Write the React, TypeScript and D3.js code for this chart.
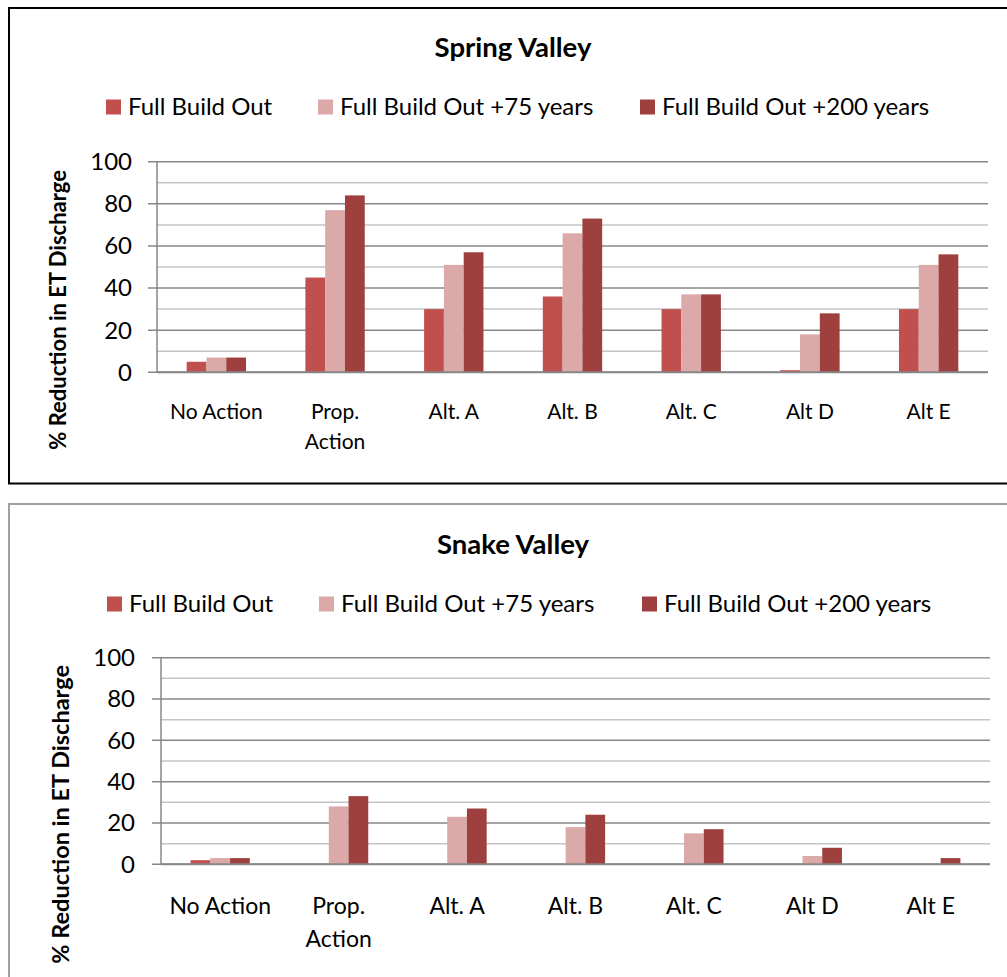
import React from "react";
import * as d3 from "d3";

const categories = ["No Action", "Prop. Action", "Alt. A", "Alt. B", "Alt. C", "Alt D", "Alt E"];
const seriesNames = ["Full Build Out", "Full Build Out +75 years", "Full Build Out +200 years"];
const seriesColors = ["#C0504D", "#DAA9A8", "#9E403E"];
const yTicks = [0, 20, 40, 60, 80, 100];
const yMinor = [10, 30, 50, 70, 90];

const springFull = [5, 45, 30, 36, 30, 1, 30];
const spring75 = [7, 77, 51, 66, 37, 18, 51];
const spring200 = [7, 84, 57, 73, 37, 28, 56];

const snakeFull = [2, 0, 0, 0, 0, 0, 0];
const snake75 = [3, 28, 23, 18, 15, 4, 0];
const snake200 = [3, 33, 27, 24, 17, 8, 3];

const FONT = "Lato, 'Open Sans', sans-serif";

type Geo = {
  frameY: number;
  frameH: number;
  frameStroke: string;
  titleY: number;
  legendY: number;
  legendX: number[];
  left: number;
  right: number;
  y0: number;
  y100: number;
  tickLabelX: number;
  catFont: number;
  catLine1: number;
  catLineGap: number;
  yTitleX: number;
  yTitleTop: number;
  yTitleFont: number;
};

function Chart({ title, series, geo }: { title: string; series: number[][]; geo: Geo }) {
  const x = d3
    .scaleBand<string>()
    .domain(categories)
    .range([geo.left, geo.right])
    .paddingInner(0.5)
    .paddingOuter(0.25);
  const xs = d3
    .scaleBand<string>()
    .domain(seriesNames)
    .range([0, x.bandwidth()])
    .padding(0);
  const y = d3.scaleLinear().domain([0, 100]).range([geo.y0, geo.y100]);

  return (
    <g>
      <rect
        x={9}
        y={geo.frameY}
        width={1010}
        height={geo.frameH}
        fill="#fff"
        stroke={geo.frameStroke}
        strokeWidth={2}
      />
      <text
        x={513}
        y={geo.titleY}
        textAnchor="middle"
        dy="0.35em"
        fontFamily={FONT}
        fontWeight="bold"
        fontSize={27.5}
        fill="#000"
      >
        {title}
      </text>
      {seriesNames.map((s, i) => (
        <g key={s}>
          <rect x={geo.legendX[i]} y={geo.legendY - 7.5} width={15} height={15} fill={seriesColors[i]} />
          <text
            x={geo.legendX[i] + 22}
            y={geo.legendY}
            dy="0.35em"
            fontFamily={FONT}
            fontSize={24}
            fill="#000"
          >
            {s}
          </text>
        </g>
      ))}
      {yMinor.map((t) => (
        <line key={"m" + t} x1={geo.left} x2={geo.right} y1={y(t)} y2={y(t)} stroke="#C4C4C4" strokeWidth={1.5} />
      ))}
      {yTicks.map((t) => (
        <g key={"t" + t}>
          <line x1={geo.left - 9} x2={geo.right} y1={y(t)} y2={y(t)} stroke="#878787" strokeWidth={1.5} />
          <text
            x={geo.tickLabelX}
            y={y(t)}
            dy="0.35em"
            textAnchor="end"
            fontFamily={FONT}
            fontSize={24}
            fill="#000"
          >
            {t}
          </text>
        </g>
      ))}
      <line x1={geo.left} x2={geo.left} y1={y(100)} y2={y(0)} stroke="#878787" strokeWidth={1.5} />
      {categories.map((c, ci) => (
        <g key={c}>
          {seriesNames.map((s, si) => {
            const v = series[si][ci];
            if (v <= 0) return null;
            return (
              <rect
                key={s}
                x={(x(c) as number) + (xs(s) as number)}
                y={y(v)}
                width={xs.bandwidth()}
                height={y(0) - y(v)}
                fill={seriesColors[si]}
              />
            );
          })}
        </g>
      ))}
      <line x1={geo.left} x2={geo.right} y1={y(0)} y2={y(0)} stroke="#878787" strokeWidth={2} />
      {categories.map((c) => {
        const cx = (x(c) as number) + x.bandwidth() / 2;
        const lines = c === "Prop. Action" ? ["Prop.", "Action"] : [c];
        return (
          <text
            key={"l" + c}
            x={cx}
            textAnchor="middle"
            fontFamily={FONT}
            fontSize={geo.catFont}
            fill="#000"
          >
            {lines.map((ln, li) => (
              <tspan key={li} x={cx} y={geo.y0 + geo.catLine1 + li * geo.catLineGap} dy="0.35em">
                {ln}
              </tspan>
            ))}
          </text>
        );
      })}
      <text
        transform={`translate(${geo.yTitleX},${geo.yTitleTop}) rotate(-90)`}
        textAnchor="end"
        dy="0.35em"
        fontFamily={FONT}
        fontWeight="bold"
        fontSize={geo.yTitleFont}
        fill="#000"
      >
        % Reduction in ET Discharge
      </text>
    </g>
  );
}

const topGeo: Geo = {
  frameY: 8,
  frameH: 475.5,
  frameStroke: "#000",
  titleY: 47,
  legendY: 107,
  legendX: [106, 318, 640],
  left: 157,
  right: 988,
  y0: 372.3,
  y100: 161.7,
  tickLabelX: 132,
  catFont: 21,
  catLine1: 39,
  catLineGap: 30,
  yTitleX: 58,
  yTitleTop: 170,
  yTitleFont: 22,
};

const bottomGeo: Geo = {
  frameY: 504,
  frameH: 520,
  frameStroke: "#A0A0A0",
  titleY: 544,
  legendY: 604,
  legendX: [107, 319, 642],
  left: 161,
  right: 990,
  y0: 864.3,
  y100: 657.7,
  tickLabelX: 135,
  catFont: 23,
  catLine1: 42,
  catLineGap: 33,
  yTitleX: 61,
  yTitleTop: 665,
  yTitleFont: 23.5,
};

export default function App() {
  return (
    <svg
      width={1007}
      height={977}
      style={{ position: "absolute", left: 0, top: 0, background: "#fff" }}
    >
      <rect x={0} y={0} width={1007} height={977} fill="#fff" />
      <Chart title="Spring Valley" series={[springFull, spring75, spring200]} geo={topGeo} />
      <Chart title="Snake Valley" series={[snakeFull, snake75, snake200]} geo={bottomGeo} />
    </svg>
  );
}
